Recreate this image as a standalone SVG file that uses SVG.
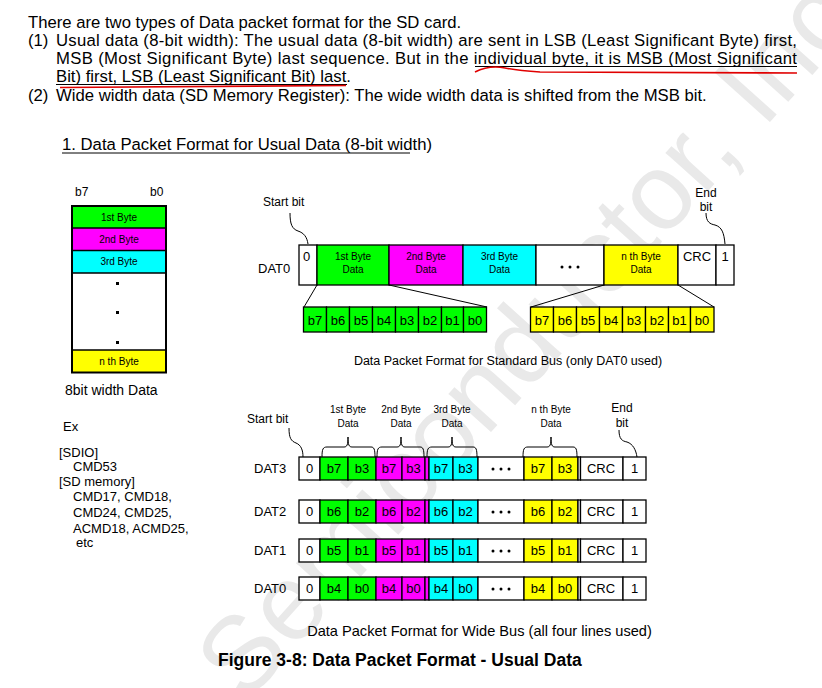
<svg xmlns="http://www.w3.org/2000/svg" width="822" height="688" viewBox="0 0 822 688">
<style>
text{font-family:"Liberation Sans",Arial,sans-serif;fill:#000}
.p{font-size:16.7px}
.h{font-size:16.7px}
.s{font-size:12px}
.m{font-size:13px}
.t{font-size:10px}
.c{text-anchor:middle}
.cell{stroke:#000;stroke-width:1.3}
.g{fill:#00ff00}.mg{fill:#ff00ff}.cy{fill:#00ffff}.y{fill:#ffff00}.w{fill:#fff}
.ln{fill:none;stroke:#000;stroke-width:1}
.wm{font-size:108px;fill:#e9e9e9}
</style>
<rect width="822" height="688" fill="#fff"/>
<g id="watermark"><text class="wm" transform="translate(245,705) rotate(-48)">Semiconductor, Inc.</text></g>

<g id="intro">
<text class="p" x="28" y="28">There are two types of Data packet format for the SD card.</text>
<text class="p" x="28" y="46">(1)</text>
<text class="p" x="56" y="46" textLength="741" lengthAdjust="spacing">Usual data (8-bit width): The usual data (8-bit width) are sent in LSB (Least Significant Byte) first,</text>
<text class="p" x="56" y="64" textLength="741" lengthAdjust="spacing">MSB (Most Significant Byte) last sequence. But in the individual byte, it is MSB (Most Significant</text>
<text class="p" x="56" y="82">Bit) first, LSB (Least Significant Bit) last.</text>
<text class="p" x="28" y="101">(2)</text>
<text class="p" x="56" y="101">Wide width data (SD Memory Register): The wide width data is shifted from the MSB bit.</text>
<line x1="475" y1="66.5" x2="797" y2="66.5" stroke="#000" stroke-width="1"/>
<line x1="56" y1="84.5" x2="347" y2="84.5" stroke="#000" stroke-width="1"/>
<path d="M475,72 C485,67 495,66 505,68 C515,70 525,71 540,72 L797,73" fill="none" stroke="#e00000" stroke-width="1.6"/>
<path d="M60,87.5 L346,85.5" fill="none" stroke="#e00000" stroke-width="1.6"/>
</g>

<g id="heading">
<text class="h" x="62" y="150">1. Data Packet Format for Usual Data (8-bit width)</text>
<line x1="62" y1="153" x2="410" y2="153" stroke="#000" stroke-width="1"/>
</g>

<g id="byte-stack">
<text class="s" x="75" y="196">b7</text>
<text class="s" x="150" y="196">b0</text>
<rect class="g" x="72" y="206" width="94" height="22"/>
<rect class="mg" x="72" y="228" width="94" height="22.5"/>
<rect class="cy" x="72" y="250.5" width="94" height="22.5"/>
<rect class="w" x="72" y="273" width="94" height="77"/>
<rect class="y" x="72" y="350" width="94" height="22.5"/>
<g fill="none" stroke="#000" stroke-width="1.3">
<line x1="72" y1="228" x2="166" y2="228"/><line x1="72" y1="250.5" x2="166" y2="250.5"/>
<line x1="72" y1="273" x2="166" y2="273"/><line x1="72" y1="350" x2="166" y2="350"/>
<rect x="72" y="206" width="94" height="166.5" stroke-width="2"/>
</g>
<text class="t c" x="119" y="221">1st Byte</text>
<text class="t c" x="119" y="243">2nd Byte</text>
<text class="t c" x="119" y="265">3rd Byte</text>
<text class="t c" x="119" y="365">n th Byte</text>
<rect x="116" y="282" width="3" height="3"/><rect x="116" y="311" width="3" height="3"/><rect x="116" y="341" width="3" height="3"/>
<text x="65" y="395" style="font-size:14px">8bit width Data</text>
</g>

<g id="ex-list">
<text class="m" x="63" y="431">Ex</text>
<text class="m" x="59" y="457">[SDIO]</text>
<text class="m" x="73" y="471">CMD53</text>
<text class="m" x="59" y="486">[SD memory]</text>
<text class="m" x="73" y="501">CMD17, CMD18,</text>
<text class="m" x="73" y="517">CMD24, CMD25,</text>
<text class="m" x="73" y="533">ACMD18, ACMD25,</text>
<text class="m" x="76" y="547">etc</text>
</g>

<g id="std-bus">
<text class="s" x="263" y="206">Start bit</text>
<text class="c s" x="706" y="197">End</text>
<text class="c s" x="706" y="211">bit</text>
<text class="m" x="258" y="273">DAT0</text>
<g class="cell">
<rect class="w" x="299" y="245" width="18" height="40"/>
<rect class="g" x="317" y="245" width="72" height="40"/>
<rect class="mg" x="389" y="245" width="74" height="40"/>
<rect class="cy" x="463" y="245" width="73" height="40"/>
<rect class="w" x="536" y="245" width="68" height="40"/>
<rect class="y" x="604" y="245" width="74" height="40"/>
<rect class="w" x="678" y="245" width="38" height="40"/>
<rect class="w" x="716" y="245" width="18" height="40"/>
</g>
<text class="m" x="303" y="261">0</text>
<text class="t c" x="353" y="260">1st Byte</text><text class="t c" x="353" y="273">Data</text>
<text class="t c" x="426" y="260">2nd Byte</text><text class="t c" x="426" y="273">Data</text>
<text class="t c" x="499.5" y="260">3rd Byte</text><text class="t c" x="499.5" y="273">Data</text>
<text class="t c" x="641" y="260">n th Byte</text><text class="t c" x="641" y="273">Data</text>
<circle cx="562" cy="267" r="1.5"/><circle cx="570" cy="267" r="1.5"/><circle cx="578" cy="267" r="1.5"/>
<text class="m c" x="697" y="261">CRC</text>
<text class="m c" x="725" y="261">1</text>
</g>

<g id="std-bits-first">
<g class="cell g">
<rect x="303.5" y="307" width="23" height="25"/><rect x="326.5" y="307" width="23" height="25"/>
<rect x="349.5" y="307" width="23" height="25"/><rect x="372.5" y="307" width="23" height="25"/>
<rect x="395.5" y="307" width="23" height="25"/><rect x="418.5" y="307" width="23" height="25"/>
<rect x="441.5" y="307" width="22" height="25"/><rect x="463.5" y="307" width="23" height="25"/>
</g>
<g class="m c">
<text x="315" y="325">b7</text><text x="338" y="325">b6</text><text x="361" y="325">b5</text><text x="384" y="325">b4</text>
<text x="407" y="325">b3</text><text x="430" y="325">b2</text><text x="452.5" y="325">b1</text><text x="475" y="325">b0</text>
</g>
</g>

<g id="std-bits-nth">
<g class="cell y">
<rect x="530.5" y="307" width="23" height="25"/><rect x="553.5" y="307" width="23" height="25"/>
<rect x="576.5" y="307" width="23" height="25"/><rect x="599.5" y="307" width="23" height="25"/>
<rect x="622.5" y="307" width="23" height="25"/><rect x="645.5" y="307" width="23" height="25"/>
<rect x="668.5" y="307" width="22" height="25"/><rect x="690.5" y="307" width="23.5" height="25"/>
</g>
<g class="m c">
<text x="542" y="325">b7</text><text x="565" y="325">b6</text><text x="588" y="325">b5</text><text x="611" y="325">b4</text>
<text x="634" y="325">b3</text><text x="657" y="325">b2</text><text x="679.5" y="325">b1</text><text x="702" y="325">b0</text>
</g>
</g>

<g id="std-caption"><text class="c" x="508" y="365" style="font-size:12.5px">Data Packet Format for Standard Bus (only DAT0 used)</text></g>

<g id="wide-labels">
<text class="s" x="247" y="423">Start bit</text>
<text class="t c" x="348" y="413">1st Byte</text><text class="t c" x="348" y="427">Data</text>
<text class="t c" x="401" y="413">2nd Byte</text><text class="t c" x="401" y="427">Data</text>
<text class="t c" x="452" y="413">3rd Byte</text><text class="t c" x="452" y="427">Data</text>
<text class="t c" x="551" y="413">n th Byte</text><text class="t c" x="551" y="427">Data</text>
<text class="s c" x="622" y="412">End</text><text class="s c" x="622" y="427">bit</text>
</g>

<g id="wide-rows">
<g id="row-dat3" transform="translate(0,457)">
<text class="m" x="254" y="16">DAT3</text>
<g class="cell">
<rect class="w" x="299" y="0" width="21" height="23"/>
<rect class="g" x="320" y="0" width="28" height="23"/><rect class="g" x="348" y="0" width="28" height="23"/>
<rect class="mg" x="376" y="0" width="26" height="23"/><rect class="mg" x="402" y="0" width="23" height="23"/><rect class="mg" x="425" y="0" width="4" height="23"/>
<rect class="cy" x="429" y="0" width="24" height="23"/><rect class="cy" x="453" y="0" width="25" height="23"/>
<rect class="w" x="478" y="0" width="46" height="23"/>
<rect class="y" x="524" y="0" width="28" height="23"/><rect class="y" x="552" y="0" width="26" height="23"/>
<rect class="w" x="578" y="0" width="2.5" height="23"/><rect class="w" x="580.5" y="0" width="42.5" height="23"/>
<rect class="w" x="623" y="0" width="23" height="23"/>
</g>
<text class="m c" x="309.5" y="16">0</text>
<text class="m c" x="334" y="16">b7</text><text class="m c" x="362" y="16">b3</text>
<text class="m c" x="389" y="16">b7</text><text class="m c" x="413.5" y="16">b3</text>
<text class="m c" x="441" y="16">b7</text><text class="m c" x="465.5" y="16">b3</text>
<circle cx="493" cy="12" r="1.5"/><circle cx="501" cy="12" r="1.5"/><circle cx="509" cy="12" r="1.5"/>
<text class="m c" x="538" y="16">b7</text><text class="m c" x="565" y="16">b3</text>
<text class="m c" x="601" y="16">CRC</text><text class="m c" x="634.5" y="16">1</text>
</g>
<g id="row-dat2" transform="translate(0,500)">
<text class="m" x="254" y="16">DAT2</text>
<g class="cell">
<rect class="w" x="299" y="0" width="21" height="23"/>
<rect class="g" x="320" y="0" width="28" height="23"/><rect class="g" x="348" y="0" width="28" height="23"/>
<rect class="mg" x="376" y="0" width="26" height="23"/><rect class="mg" x="402" y="0" width="23" height="23"/><rect class="mg" x="425" y="0" width="4" height="23"/>
<rect class="cy" x="429" y="0" width="24" height="23"/><rect class="cy" x="453" y="0" width="25" height="23"/>
<rect class="w" x="478" y="0" width="46" height="23"/>
<rect class="y" x="524" y="0" width="28" height="23"/><rect class="y" x="552" y="0" width="26" height="23"/>
<rect class="w" x="578" y="0" width="2.5" height="23"/><rect class="w" x="580.5" y="0" width="42.5" height="23"/>
<rect class="w" x="623" y="0" width="23" height="23"/>
</g>
<text class="m c" x="309.5" y="16">0</text>
<text class="m c" x="334" y="16">b6</text><text class="m c" x="362" y="16">b2</text>
<text class="m c" x="389" y="16">b6</text><text class="m c" x="413.5" y="16">b2</text>
<text class="m c" x="441" y="16">b6</text><text class="m c" x="465.5" y="16">b2</text>
<circle cx="493" cy="12" r="1.5"/><circle cx="501" cy="12" r="1.5"/><circle cx="509" cy="12" r="1.5"/>
<text class="m c" x="538" y="16">b6</text><text class="m c" x="565" y="16">b2</text>
<text class="m c" x="601" y="16">CRC</text><text class="m c" x="634.5" y="16">1</text>
</g>
<g id="row-dat1" transform="translate(0,539)">
<text class="m" x="254" y="16">DAT1</text>
<g class="cell">
<rect class="w" x="299" y="0" width="21" height="23"/>
<rect class="g" x="320" y="0" width="28" height="23"/><rect class="g" x="348" y="0" width="28" height="23"/>
<rect class="mg" x="376" y="0" width="26" height="23"/><rect class="mg" x="402" y="0" width="23" height="23"/><rect class="mg" x="425" y="0" width="4" height="23"/>
<rect class="cy" x="429" y="0" width="24" height="23"/><rect class="cy" x="453" y="0" width="25" height="23"/>
<rect class="w" x="478" y="0" width="46" height="23"/>
<rect class="y" x="524" y="0" width="28" height="23"/><rect class="y" x="552" y="0" width="26" height="23"/>
<rect class="w" x="578" y="0" width="2.5" height="23"/><rect class="w" x="580.5" y="0" width="42.5" height="23"/>
<rect class="w" x="623" y="0" width="23" height="23"/>
</g>
<text class="m c" x="309.5" y="16">0</text>
<text class="m c" x="334" y="16">b5</text><text class="m c" x="362" y="16">b1</text>
<text class="m c" x="389" y="16">b5</text><text class="m c" x="413.5" y="16">b1</text>
<text class="m c" x="441" y="16">b5</text><text class="m c" x="465.5" y="16">b1</text>
<circle cx="493" cy="12" r="1.5"/><circle cx="501" cy="12" r="1.5"/><circle cx="509" cy="12" r="1.5"/>
<text class="m c" x="538" y="16">b5</text><text class="m c" x="565" y="16">b1</text>
<text class="m c" x="601" y="16">CRC</text><text class="m c" x="634.5" y="16">1</text>
</g>
<g id="row-dat0" transform="translate(0,577)">
<text class="m" x="254" y="16">DAT0</text>
<g class="cell">
<rect class="w" x="299" y="0" width="21" height="23"/>
<rect class="g" x="320" y="0" width="28" height="23"/><rect class="g" x="348" y="0" width="28" height="23"/>
<rect class="mg" x="376" y="0" width="26" height="23"/><rect class="mg" x="402" y="0" width="23" height="23"/><rect class="mg" x="425" y="0" width="4" height="23"/>
<rect class="cy" x="429" y="0" width="24" height="23"/><rect class="cy" x="453" y="0" width="25" height="23"/>
<rect class="w" x="478" y="0" width="46" height="23"/>
<rect class="y" x="524" y="0" width="28" height="23"/><rect class="y" x="552" y="0" width="26" height="23"/>
<rect class="w" x="578" y="0" width="2.5" height="23"/><rect class="w" x="580.5" y="0" width="42.5" height="23"/>
<rect class="w" x="623" y="0" width="23" height="23"/>
</g>
<text class="m c" x="309.5" y="16">0</text>
<text class="m c" x="334" y="16">b4</text><text class="m c" x="362" y="16">b0</text>
<text class="m c" x="389" y="16">b4</text><text class="m c" x="413.5" y="16">b0</text>
<text class="m c" x="441" y="16">b4</text><text class="m c" x="465.5" y="16">b0</text>
<circle cx="493" cy="12" r="1.5"/><circle cx="501" cy="12" r="1.5"/><circle cx="509" cy="12" r="1.5"/>
<text class="m c" x="538" y="16">b4</text><text class="m c" x="565" y="16">b0</text>
<text class="m c" x="601" y="16">CRC</text><text class="m c" x="634.5" y="16">1</text>
</g>
</g>

<g id="captions">
<text class="c" x="479.5" y="636" style="font-size:14.6px">Data Packet Format for Wide Bus (all four lines used)</text>
<text x="218" y="666" style="font-size:17.5px;font-weight:bold">Figure 3-8: Data Packet Format - Usual Data</text>
</g>

<g id="connectors" class="ln">
<path d="M290,213 C290,224 292,229 298,231 C304,233 307,237 308,244"/>
<path d="M706,213 C706,222 710,224 715,225 C722,227 724,233 725,244"/>
<line x1="317" y1="285" x2="304" y2="307"/>
<line x1="389" y1="285" x2="487" y2="307"/>
<line x1="604" y1="285" x2="531" y2="307"/>
<line x1="678" y1="285" x2="714" y2="307"/>
<path d="M289,428 C289,438 291,441 296,443 C301,445 303,450 303,457"/>
<path d="M619,430 C619,439 622,441 627,442 C633,444 636,450 637,457"/>
<path d="M322,457 C322,449 323,447 327,447 L344,447 C347,447 348,445 348,437 C348,445 349,447 352,447 L371,447 C374,447 375,449 375,457"/>
<path d="M377,457 C377,449 378,447 382,447 L397,447 C400,447 401,445 401,437 C401,445 402,447 405,447 L420,447 C423,447 424,449 424,457"/>
<path d="M427,457 C427,449 428,447 432,447 L448,447 C451,447 452,445 452,437 C452,445 453,447 456,447 L473,447 C476,447 477,449 477,457"/>
<path d="M523,457 C523,449 524,447 528,447 L547,447 C550,447 551,445 551,437 C551,445 552,447 555,447 L573,447 C576,447 577,449 577,457"/>
</g>
</svg>
